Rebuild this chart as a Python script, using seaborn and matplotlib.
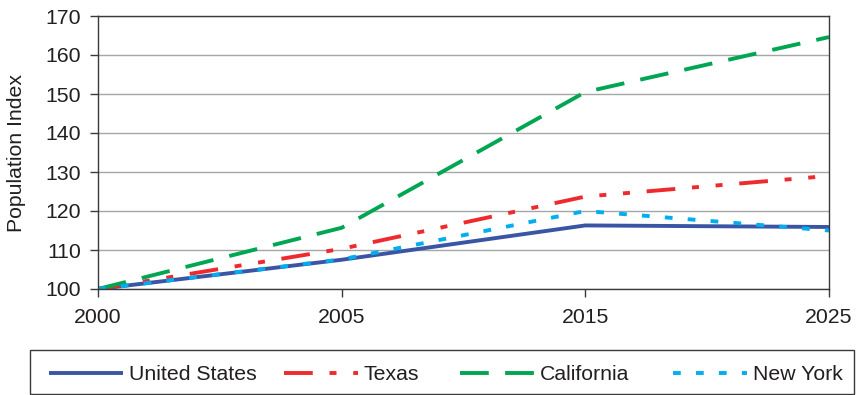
import matplotlib
matplotlib.use("Agg")
import matplotlib.pyplot as plt
from matplotlib.patches import Rectangle
import seaborn as sns
import pandas as pd

years = ["2000", "2005", "2015", "2025"]
united_states = [100.0, 107.5, 116.3, 115.9]
texas = [100.0, 110.3, 123.7, 129.0]
california = [100.0, 115.7, 150.5, 164.6]
new_york = [100.0, 107.6, 120.0, 115.0]
series_names = ["United States", "Texas", "California", "New York"]
y_ticks = [100, 110, 120, 130, 140, 150, 160, 170]

colors = ["#3A55A4", "#EE2A2F", "#00A651", "#00AEEF"]
dash_styles = [None, (7.4, 4.3, 1.8, 4.3, 1.8, 4.3), (7.4, 4.2), (2.0, 3.9)]
legend_x_px = [49, 284, 460, 673]

sns.set_theme(style="white")
plt.rcParams["font.family"] = ["Liberation Sans", "DejaVu Sans"]

fig = plt.figure(figsize=(8.56, 3.95), dpi=100)
ax = fig.add_axes([98 / 856, 1 - 289 / 395, (829 - 98) / 856, (289 - 16) / 395])

all_vals = [united_states, texas, california, new_york]
df = pd.DataFrame({
    "year": years * 4,
    "value": [v for vals in all_vals for v in vals],
    "series": [n for n in series_names for _ in years],
})

for name, col, dsh in zip(series_names, colors, dash_styles):
    sub = df[df["series"] == name]
    sns.lineplot(data=sub, x="year", y="value", color=col, lw=2.8, ax=ax,
                 label=name, legend=False, sort=False)
    line = ax.lines[-1]
    if dsh is not None:
        line.set_dashes(dsh)
        line.set_dash_capstyle("butt")
    line.set_solid_capstyle("butt")

ax.set_xlim(0, 3)
ax.set_ylim(100, 170)
ax.set_yticks(y_ticks)
ax.yaxis.grid(True, color="#A6A6A6", lw=1.0)
ax.xaxis.grid(False)
ax.set_axisbelow(True)
for sp in ax.spines.values():
    sp.set_visible(True)
    sp.set_color("#3A3A3A")
    sp.set_linewidth(1.0)
ax.tick_params(axis="y", which="both", left=True, length=6, width=1, color="#3A3A3A",
               labelsize=15.3, labelcolor="#231F20", pad=6)
ax.tick_params(axis="x", which="both", bottom=True, length=6, width=1, color="#3A3A3A",
               labelsize=15.3, labelcolor="#231F20", pad=7.5)
ax.set_xlabel("")
ax.set_ylabel("Population Index", fontsize=15.3, color="#231F20", labelpad=14)

handles = ax.lines[:4]
for h, name, xpx in zip(handles, series_names, legend_x_px):
    leg = fig.legend([h], [name], loc="center left",
                     bbox_to_anchor=(xpx / 856, 1 - 375 / 395), frameon=False,
                     fontsize=15.3, handlelength=3.48, handletextpad=0.28,
                     borderaxespad=0, borderpad=0)
    for t in leg.get_texts():
        t.set_color("#231F20")

fig.patches.append(Rectangle((30 / 856, 1 - 394 / 395), 824 / 856, 44 / 395,
                             transform=fig.transFigure, fill=False,
                             edgecolor="#3A3A3A", lw=1.0))

fig.savefig("out.png", dpi=100)
